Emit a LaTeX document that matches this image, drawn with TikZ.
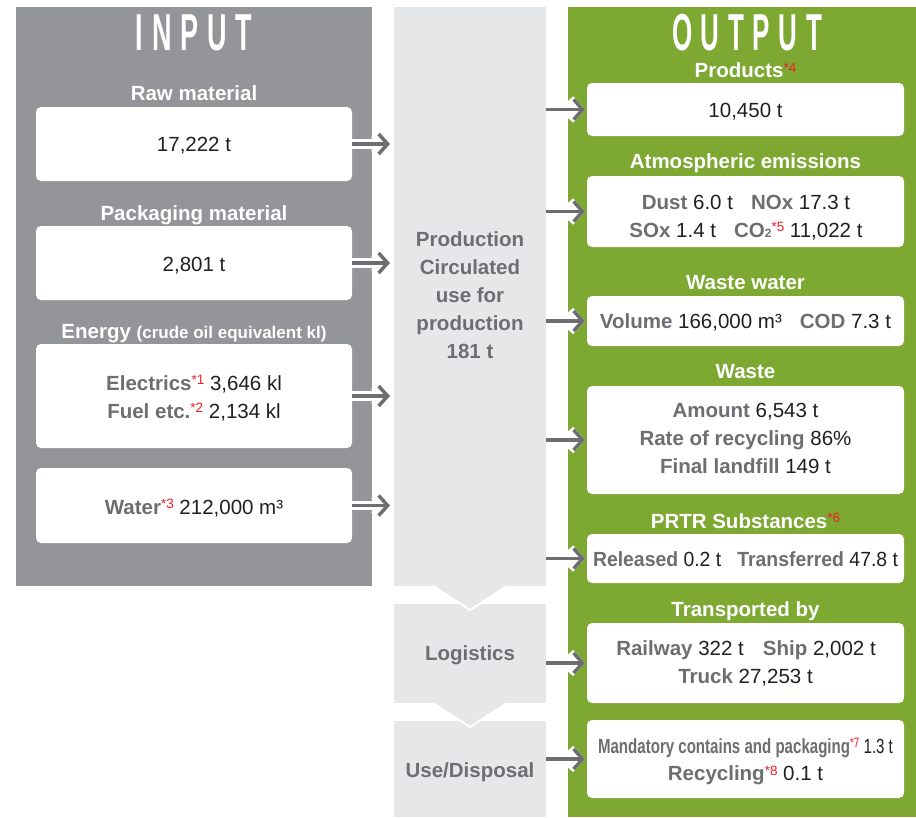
\documentclass[tikz,border=0pt]{standalone}
\usepackage{fontspec}
\setmainfont{Liberation Sans}
\usetikzlibrary{arrows.meta}
\definecolor{inGray}{HTML}{939598}
\definecolor{midGray}{HTML}{E6E7E8}
\definecolor{outGreen}{HTML}{7DA832}
\definecolor{arrGray}{HTML}{6D6E71}
\definecolor{labGray}{HTML}{6D6E71}
\definecolor{valBlack}{HTML}{231F20}
\definecolor{noteRed}{HTML}{ED1C24}
\newcommand\lbl[1]{{\bfseries\color{labGray}#1}}
\newcommand\fnote[1]{\raisebox{5.5pt}{\fontsize{13.5}{13.5}\selectfont\mdseries\color{noteRed}*#1}}
\newcommand\subtwo{{\fontsize{12}{12}\selectfont 2}}
\tikzset{
  panel/.style={rectangle, inner sep=0pt, outer sep=0pt, anchor=north west},
  whitebox/.style={rectangle, fill=white, rounded corners=5pt, inner sep=0pt, outer sep=0pt, minimum width=#1},
  headtxt/.style={anchor=base, text=white, inner sep=0pt, font=\fontsize{52}{52}\selectfont\bfseries},
  ttl/.style={anchor=base, text=white, inner sep=0pt, font=\fontsize{20.5}{20.5}\selectfont\bfseries},
  val/.style={anchor=base, text=valBlack, inner sep=0pt, font=\fontsize{20.5}{20.5}\selectfont},
  mid/.style={anchor=base, text=labGray, inner sep=0pt, font=\fontsize{20.5}{20.5}\selectfont\bfseries},
  flow/.style={draw=arrGray, line width=3.5pt, -{Straight Barb[length=9pt,width=20pt]},
    preaction={draw=white, line width=9.5pt, -{Straight Barb[length=9pt,width=20pt]}}},
}
\begin{document}
\begin{tikzpicture}[x=1pt,y=-1pt]
\useasboundingbox (0,0) rectangle (916,817);
% panels
\node[panel, fill=inGray, minimum width=356pt, minimum height=578.5pt] (inpanel) at (16,7) {};
\node[panel, fill=midGray, minimum width=152pt, minimum height=578.5pt] (prod) at (394,7) {};
\node[panel, fill=midGray, minimum width=152pt, minimum height=99pt] (logi) at (394,604) {};
\node[panel, fill=midGray, minimum width=152pt, minimum height=96pt] (use) at (394,721) {};
\node[panel, fill=outGreen, minimum width=348pt, minimum height=810pt] (outpanel) at (568,7) {};
% chevrons
\fill[midGray] (433,585.5) -- (507,585.5) -- (470,610) -- cycle;
\draw[white, line width=2pt] (433,586) -- (470,610) -- (507,586);
\fill[midGray] (433,702.5) -- (507,702.5) -- (470,727) -- cycle;
\draw[white, line width=2pt] (433,703) -- (470,727) -- (507,703);
% input boxes
\node[whitebox=316pt, minimum height=74pt] (raw) at (194,144) {};
\node[whitebox=316pt, minimum height=74pt] (pack) at (194,263) {};
\node[whitebox=316pt, minimum height=104pt] (energy) at (194,396) {};
\node[whitebox=316pt, minimum height=75pt] (water) at (194,505.5) {};
% output boxes
\node[whitebox=317pt, minimum height=53pt] (products) at (745.5,109.5) {};
\node[whitebox=317pt, minimum height=71pt] (atmos) at (745.5,211.5) {};
\node[whitebox=317pt, minimum height=50pt] (wwater) at (745.5,321) {};
\node[whitebox=317pt, minimum height=108pt] (waste) at (745.5,440) {};
\node[whitebox=317pt, minimum height=49pt] (prtr) at (745.5,558.5) {};
\node[whitebox=317pt, minimum height=80pt] (transp) at (745.5,663) {};
\node[whitebox=317pt, minimum height=78pt] (mand) at (745.5,759) {};
% headings
\node[headtxt] (inhead) at (194,50) {\scalebox{0.52}[1]{I\hspace{0.33em}N\hspace{0.33em}P\hspace{0.33em}U\hspace{0.33em}T}};
\node[headtxt] (outhead) at (747,50) {\scalebox{0.5}[1]{O\hspace{0.33em}U\hspace{0.33em}T\hspace{0.33em}P\hspace{0.33em}U\hspace{0.33em}T}};
% input texts
\node[ttl] (rawT) at (194,100.5) {Raw material};
\node[val] (rawV) at (194,151.5) {17,222 t};
\node[ttl] (packT) at (194,220) {Packaging material};
\node[val] (packV) at (194,271) {2,801 t};
\node[ttl] (enT) at (194,338) {Energy {\fontsize{17}{17}\selectfont (crude oil equivalent kl)}};
\node[val] (enV1) at (194,390) {\lbl{Electrics}\fnote{1} 3,646 kl};
\node[val] (enV2) at (194,418) {\lbl{Fuel etc.}\fnote{2} 2,134 kl};
\node[val] (watV) at (194,514) {\lbl{Water}\fnote{3} 212,000 m³};
% middle texts
\node[mid] (m1) at (470,246.5) {Production};
\node[mid] (m2) at (470,274.5) {Circulated};
\node[mid] (m3) at (470,302.5) {use for};
\node[mid] (m4) at (470,330.5) {production};
\node[mid] (m5) at (470,358.5) {181 t};
\node[mid] (logT) at (470,660) {Logistics};
\node[mid] (useT) at (470,777.5) {Use/Disposal};
% output texts
\node[ttl] (prodT) at (745.5,77.5) {Products\fnote{4}};
\node[val] (prodV) at (745.5,117) {10,450 t};
\node[ttl] (atmT) at (745.5,168) {Atmospheric emissions};
\node[val] (atm1) at (746,209) {\lbl{Dust} 6.0 t\hspace{18pt}\lbl{NOx} 17.3 t};
\node[val] (atm2) at (746,237) {\lbl{SOx} 1.4 t\hspace{18pt}\lbl{CO\subtwo}\fnote{5} 11,022 t};
\node[ttl] (wwT) at (745.5,289) {Waste water};
\node[val] (wwV) at (745.5,328) {\lbl{Volume} 166,000 m³\hspace{18pt}\lbl{COD} 7.3 t};
\node[ttl] (wsT) at (745.5,378) {Waste};
\node[val] (ws1) at (745.5,417.5) {\lbl{Amount} 6,543 t};
\node[val] (ws2) at (745.5,445) {\lbl{Rate of recycling} 86\%};
\node[val] (ws3) at (745.5,473) {\lbl{Final landfill} 149 t};
\node[ttl] (prT) at (745.5,528) {PRTR Substances\fnote{6}};
\node[val] (prV) at (745.5,566) {\scalebox{0.946}[1]{\lbl{Released} 0.2 t\hspace{17pt}\lbl{Transferred} 47.8 t}};
\node[ttl] (trT) at (745.5,616.5) {Transported by};
\node[val] (tr1) at (746,655) {\lbl{Railway} 322 t\hspace{19pt}\lbl{Ship} 2,002 t};
\node[val] (tr2) at (745.5,683) {\lbl{Truck} 27,253 t};
\node[val] (md1) at (745.5,753) {\scalebox{0.735}[1]{\lbl{Mandatory contains and packaging}\fnote{7} 1.3 t}};
\node[val] (md2) at (745.5,780.5) {\lbl{Recycling}\fnote{8} 0.1 t};
% input arrows
\draw[flow] (raw.east) -- ([xshift=-4pt]raw.east -| prod.west);
\draw[flow] (pack.east) -- ([xshift=-4pt]pack.east -| prod.west);
\draw[flow] (energy.east) -- ([xshift=-4pt]energy.east -| prod.west);
\draw[flow] (water.east) -- ([xshift=-4pt]water.east -| prod.west);
% output arrows
\draw[flow] (prod.east |- products.west) -- ([xshift=-2pt]products.west);
\draw[flow] (prod.east |- atmos.west) -- ([xshift=-2pt]atmos.west);
\draw[flow] (prod.east |- wwater.west) -- ([xshift=-2pt]wwater.west);
\draw[flow] (prod.east |- waste.west) -- ([xshift=-2pt]waste.west);
\draw[flow] (prod.east |- prtr.west) -- ([xshift=-2pt]prtr.west);
\draw[flow] (logi.east |- transp.west) -- ([xshift=-2pt]transp.west);
\draw[flow] (use.east |- mand.west) -- ([xshift=-2pt]mand.west);
\end{tikzpicture}
\end{document}
